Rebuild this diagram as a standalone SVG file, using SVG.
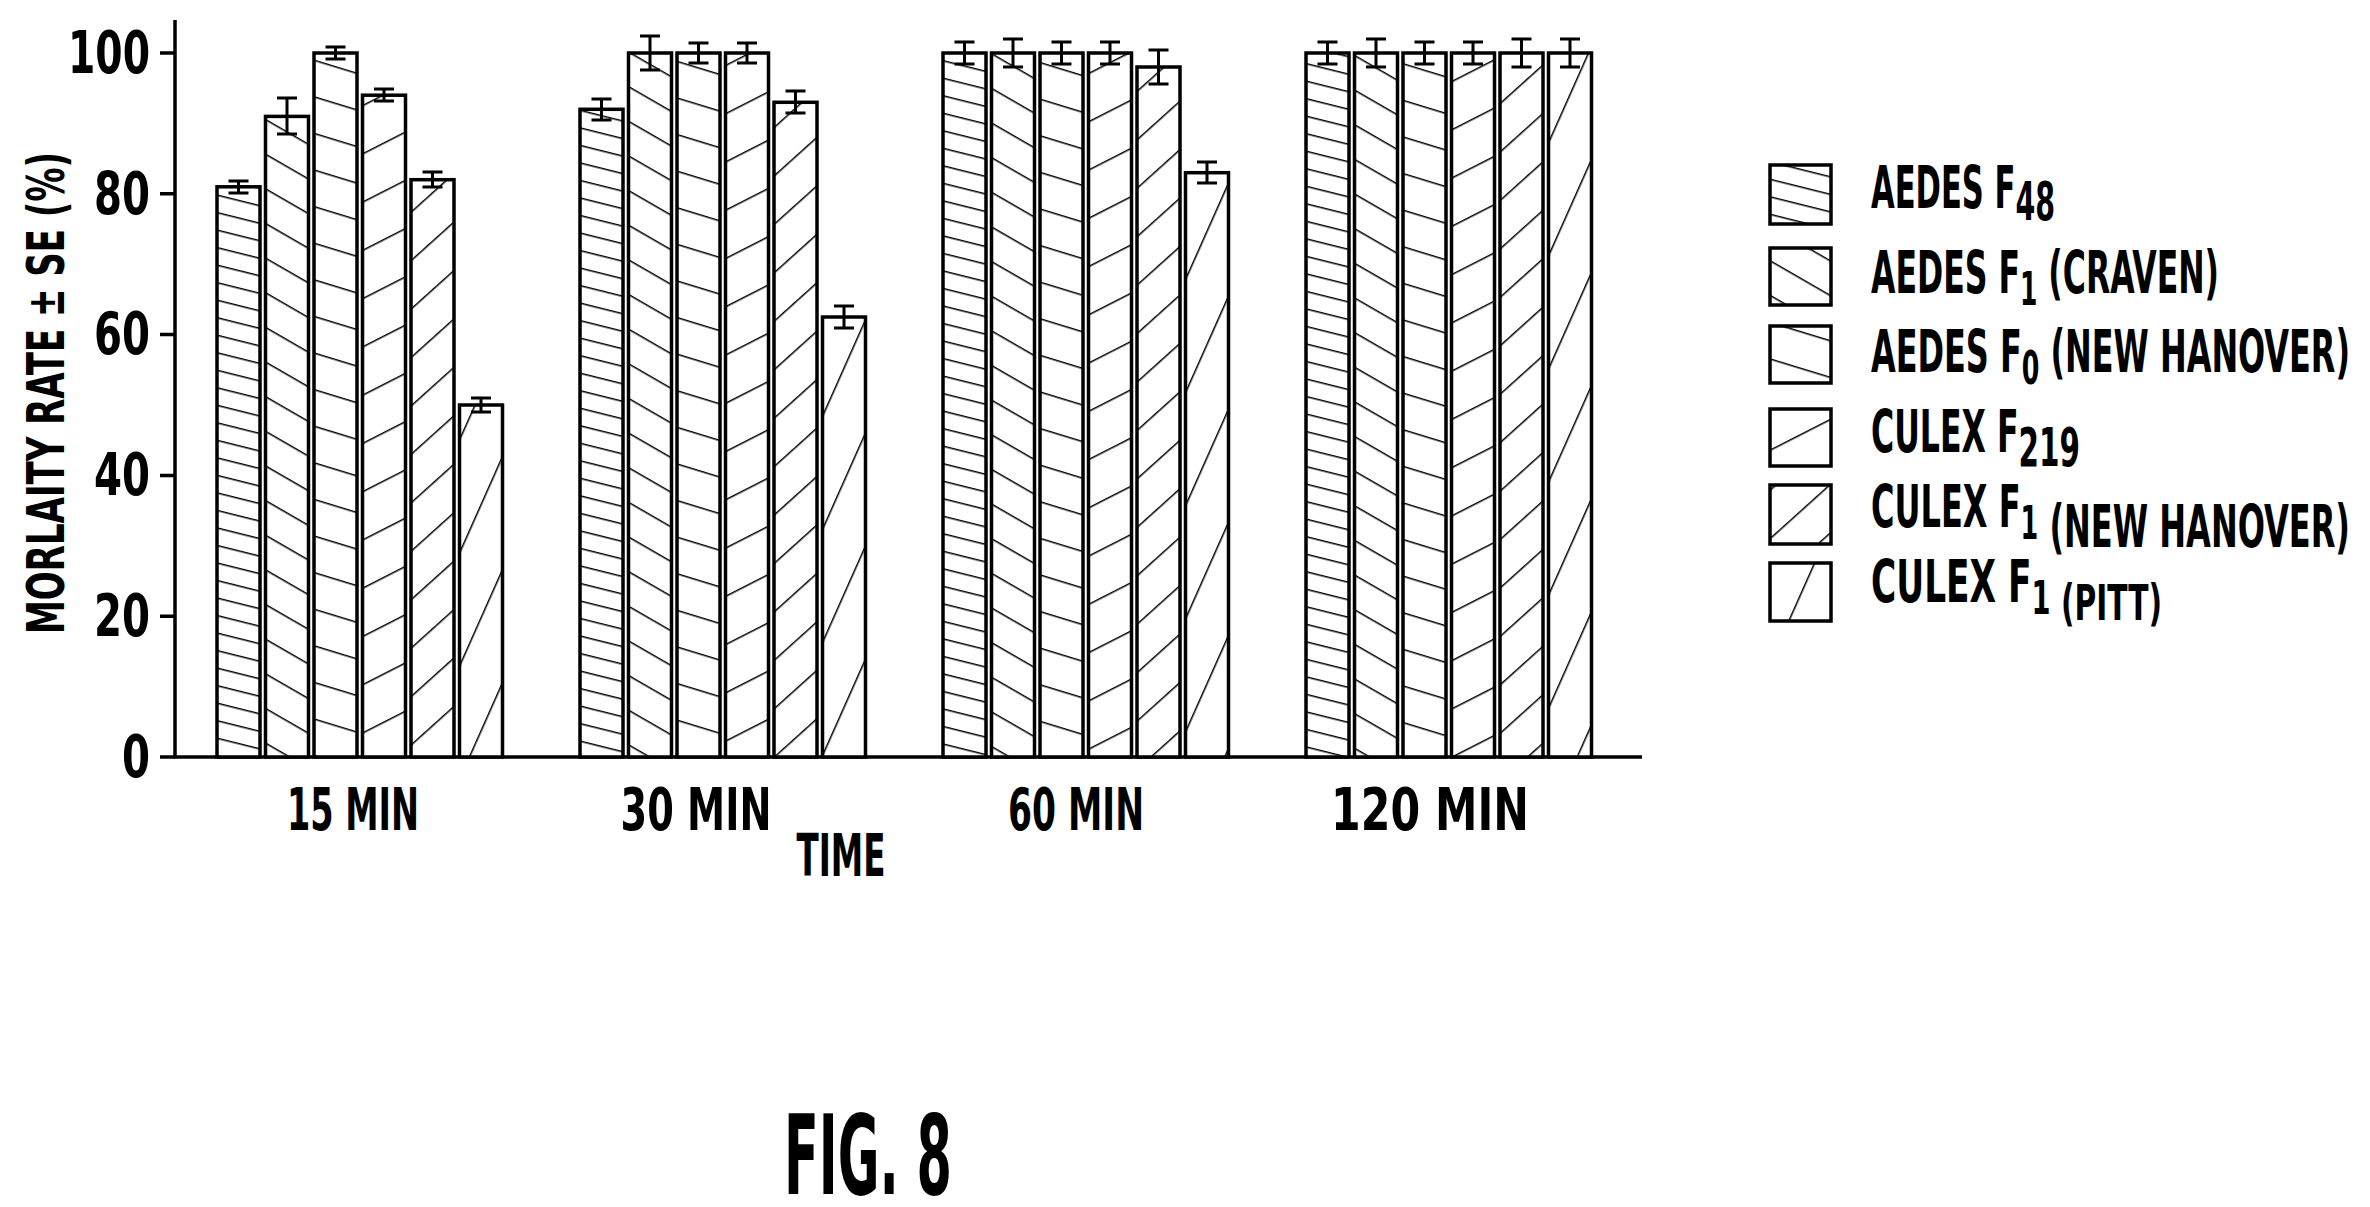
<svg xmlns="http://www.w3.org/2000/svg" width="2370" height="1207" viewBox="0 0 2370 1207">
<style>
text{font-family:"DejaVu Sans Condensed","DejaVu Sans",sans-serif;font-stretch:condensed;font-weight:bold;fill:#000}
.bar{stroke:#000;stroke-width:3.5}
.eb{stroke:#000;stroke-width:3;fill:none}
.ax{stroke:#000;stroke-width:3.5;fill:none}
.t{font-size:58px;text-anchor:end}
.x{font-size:58px;text-anchor:middle}
.lg{font-size:58px}
</style>
<defs>
<pattern id="p1" patternUnits="userSpaceOnUse" width="20" height="17" patternTransform="rotate(14)"><rect width="20" height="17" fill="#fff"/><line x1="0" y1="0.75" x2="20" y2="0.75" stroke="#000" stroke-width="1.5"/></pattern>
<pattern id="p2" patternUnits="userSpaceOnUse" width="20" height="30" patternTransform="rotate(30)"><rect width="20" height="30" fill="#fff"/><line x1="0" y1="0.75" x2="20" y2="0.75" stroke="#000" stroke-width="1.5"/></pattern>
<pattern id="p3" patternUnits="userSpaceOnUse" width="20" height="35" patternTransform="rotate(17)"><rect width="20" height="35" fill="#fff"/><line x1="0" y1="0.75" x2="20" y2="0.75" stroke="#000" stroke-width="1.5"/></pattern>
<pattern id="p4" patternUnits="userSpaceOnUse" width="20" height="43" patternTransform="rotate(-27)"><rect width="20" height="43" fill="#fff"/><line x1="0" y1="0.75" x2="20" y2="0.75" stroke="#000" stroke-width="1.5"/></pattern>
<pattern id="p5" patternUnits="userSpaceOnUse" width="20" height="36" patternTransform="rotate(-42)"><rect width="20" height="36" fill="#fff"/><line x1="0" y1="0.75" x2="20" y2="0.75" stroke="#000" stroke-width="1.5"/></pattern>
<pattern id="p6" patternUnits="userSpaceOnUse" width="20" height="46" patternTransform="rotate(-66)"><rect width="20" height="46" fill="#fff"/><line x1="0" y1="0.75" x2="20" y2="0.75" stroke="#000" stroke-width="1.5"/></pattern>
</defs>
<rect width="2370" height="1207" fill="#fff"/>

<g id="axes">
<path class="ax" d="M175 20V757H1642"/>
<path class="ax" d="M160 757H175M160 616.2H175M160 475.4H175M160 334.6H175M160 193.8H175M160 53H175"/>
<text class="t" x="150" y="777" textLength="28" lengthAdjust="spacingAndGlyphs">0</text>
<text class="t" x="150" y="636" textLength="56" lengthAdjust="spacingAndGlyphs">20</text>
<text class="t" x="150" y="495" textLength="56" lengthAdjust="spacingAndGlyphs">40</text>
<text class="t" x="150" y="354" textLength="56" lengthAdjust="spacingAndGlyphs">60</text>
<text class="t" x="150" y="214" textLength="56" lengthAdjust="spacingAndGlyphs">80</text>
<text class="t" x="150" y="73" textLength="82" lengthAdjust="spacingAndGlyphs">100</text>
<text transform="translate(64,393) rotate(-90)" style="font-size:52px;text-anchor:middle" textLength="482" lengthAdjust="spacingAndGlyphs">MORLAITY RATE  ± SE (%)</text>
<text class="x" x="353" y="830" textLength="132" lengthAdjust="spacingAndGlyphs">15 MIN</text>
<text class="x" x="696" y="830" textLength="151" lengthAdjust="spacingAndGlyphs">30 MIN</text>
<text class="x" x="1076" y="830" textLength="136" lengthAdjust="spacingAndGlyphs">60 MIN</text>
<text class="x" x="1430" y="830" textLength="198" lengthAdjust="spacingAndGlyphs">120 MIN</text>
<text class="x" x="841" y="876" textLength="89" lengthAdjust="spacingAndGlyphs">TIME</text>
<text x="868" y="1194" style="font-size:110px;text-anchor:middle" textLength="168" lengthAdjust="spacingAndGlyphs">FIG. 8</text>
</g>

<g id="bars-15">
<rect class="bar" fill="url(#p1)" x="217" y="186.8" width="43" height="570.2"/>
<rect class="bar" fill="url(#p2)" x="265.5" y="116.4" width="43" height="640.6"/>
<rect class="bar" fill="url(#p3)" x="314" y="53" width="43" height="704"/>
<rect class="bar" fill="url(#p4)" x="362.5" y="95.2" width="43" height="661.8"/>
<rect class="bar" fill="url(#p5)" x="411" y="179.7" width="43" height="577.3"/>
<rect class="bar" fill="url(#p6)" x="459.5" y="405" width="43" height="352"/>
<path class="eb" d="M238.5 181V193M228.5 181H248.5M228.5 193H248.5
M287 98V134M277 98H297M277 134H297
M335.5 47V59M325.5 47H345.5M325.5 59H345.5
M384 89V101M374 89H394M374 101H394
M432.5 172V187M422.5 172H442.5M422.5 187H442.5
M481 398V412M471 398H491M471 412H491"/>
</g>

<g id="bars-30">
<rect class="bar" fill="url(#p1)" x="580" y="109.3" width="43" height="647.7"/>
<rect class="bar" fill="url(#p2)" x="628.5" y="53" width="43" height="704"/>
<rect class="bar" fill="url(#p3)" x="677" y="53" width="43" height="704"/>
<rect class="bar" fill="url(#p4)" x="725.5" y="53" width="43" height="704"/>
<rect class="bar" fill="url(#p5)" x="774" y="102.3" width="43" height="654.7"/>
<rect class="bar" fill="url(#p6)" x="822.5" y="317" width="43" height="440"/>
<path class="eb" d="M601.5 99V120M591.5 99H611.5M591.5 120H611.5
M650 36V70M640 36H660M640 70H660
M698.5 43V63M688.5 43H708.5M688.5 63H708.5
M747 43V63M737 43H757M737 63H757
M795.5 91V113M785.5 91H805.5M785.5 113H805.5
M844 306V328M834 306H854M834 328H854"/>
</g>

<g id="bars-60">
<rect class="bar" fill="url(#p1)" x="943" y="53" width="43" height="704"/>
<rect class="bar" fill="url(#p2)" x="991.5" y="53" width="43" height="704"/>
<rect class="bar" fill="url(#p3)" x="1040" y="53" width="43" height="704"/>
<rect class="bar" fill="url(#p4)" x="1088.5" y="53" width="43" height="704"/>
<rect class="bar" fill="url(#p5)" x="1137" y="67" width="43" height="690"/>
<rect class="bar" fill="url(#p6)" x="1185.5" y="172.7" width="43" height="584.3"/>
<path class="eb" d="M964.5 42V64M954.5 42H974.5M954.5 64H974.5
M1013 39V67M1003 39H1023M1003 67H1023
M1061.5 42V64M1051.5 42H1071.5M1051.5 64H1071.5
M1110 42V64M1100 42H1120M1100 64H1120
M1158.5 50V84M1148.5 50H1168.5M1148.5 84H1168.5
M1207 162V183M1197 162H1217M1197 183H1217"/>
</g>

<g id="bars-120">
<rect class="bar" fill="url(#p1)" x="1306" y="53" width="43" height="704"/>
<rect class="bar" fill="url(#p2)" x="1354.5" y="53" width="43" height="704"/>
<rect class="bar" fill="url(#p3)" x="1403" y="53" width="43" height="704"/>
<rect class="bar" fill="url(#p4)" x="1451.5" y="53" width="43" height="704"/>
<rect class="bar" fill="url(#p5)" x="1500" y="53" width="43" height="704"/>
<rect class="bar" fill="url(#p6)" x="1548.5" y="53" width="43" height="704"/>
<path class="eb" d="M1327.5 42V64M1317.5 42H1337.5M1317.5 64H1337.5
M1376 39V67M1366 39H1386M1366 67H1386
M1424.5 42V64M1414.5 42H1434.5M1414.5 64H1434.5
M1473 42V64M1463 42H1483M1463 64H1483
M1521.5 39V67M1511.5 39H1531.5M1511.5 67H1531.5
M1570 39V67M1560 39H1580M1560 67H1580"/>
</g>

<g id="legend">
<rect class="bar" fill="url(#p1)" x="1770" y="165" width="61" height="59"/>
<rect class="bar" fill="url(#p2)" x="1770" y="248" width="61" height="57"/>
<rect class="bar" fill="url(#p3)" x="1770" y="326" width="61" height="57"/>
<rect class="bar" fill="url(#p4)" x="1770" y="409" width="61" height="57"/>
<rect class="bar" fill="url(#p5)" x="1770" y="485" width="61" height="59"/>
<rect class="bar" fill="url(#p6)" x="1770" y="563" width="61" height="58"/>
<text class="lg" x="1871" y="208" textLength="184" lengthAdjust="spacingAndGlyphs">AEDES F<tspan dy="12" style="font-size:54px">48</tspan></text>
<text class="lg" x="1871" y="293" textLength="348" lengthAdjust="spacingAndGlyphs">AEDES F<tspan dy="12" style="font-size:46px">1</tspan><tspan dy="-12"> (CRAVEN)</tspan></text>
<text class="lg" x="1871" y="372" textLength="479" lengthAdjust="spacingAndGlyphs">AEDES F<tspan dy="12" style="font-size:46px">0</tspan><tspan dy="-12"> (NEW HANOVER)</tspan></text>
<text class="lg" x="1871" y="452" textLength="209" lengthAdjust="spacingAndGlyphs">CULEX F<tspan dy="14" style="font-size:54px">219</tspan></text>
<text class="lg" x="1871" y="527" textLength="479" lengthAdjust="spacingAndGlyphs">CULEX F<tspan dy="12" style="font-size:46px">1</tspan><tspan dy="8"> (NEW HANOVER)</tspan></text>
<text class="lg" x="1871" y="602" textLength="291" lengthAdjust="spacingAndGlyphs">CULEX F<tspan dy="12" style="font-size:46px">1</tspan><tspan dy="6" style="font-size:50px"> (PITT)</tspan></text>
</g>
</svg>
